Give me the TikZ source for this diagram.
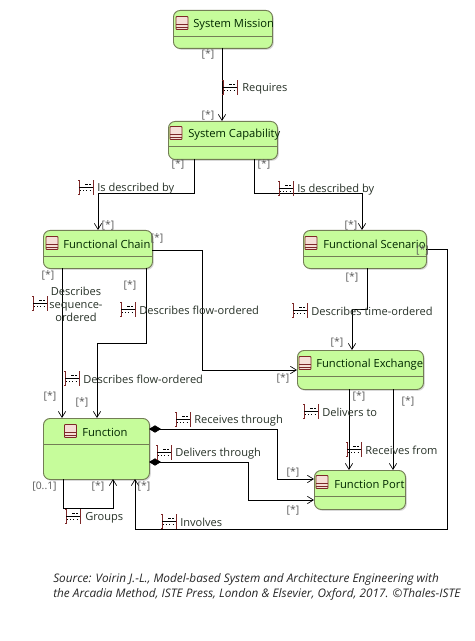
\documentclass[tikz,border=0pt]{standalone}
\usepackage{fontspec}
\setmainfont{Open Sans}
\usetikzlibrary{arrows.meta,positioning,shadows}
\definecolor{boxfill}{RGB}{198,252,155}
\definecolor{boxline}{RGB}{115,125,85}
\definecolor{iconred}{RGB}{125,40,40}
\definecolor{iconfill}{RGB}{245,222,215}
\definecolor{txt}{RGB}{40,50,40}
\tikzset{x=0.75pt,y=-0.75pt,
 classbox/.style={draw=boxline,line width=0.7pt,fill=boxfill,rounded corners=5pt,inner sep=0pt,
   drop shadow={shadow xshift=1pt,shadow yshift=-1pt,fill=black!30}},
 link/.style={draw=black,line width=0.65pt},
 open/.style={link,-{Straight Barb[length=4.5pt,width=5.5pt,line width=.5pt]}},
 comp/.style={link,{Diamond[length=9pt,width=5.5pt,fill=black]}-{Straight Barb[length=4.5pt,width=5.5pt,line width=.5pt]}},
 label/.style={font=\fontsize{8.3pt}{9.75pt}\selectfont,text=txt,inner sep=0pt,anchor=west,yshift=-1pt},
 card/.style={font=\fontsize{7.8pt}{9pt}\selectfont,text=black!65,inner sep=0pt,yshift=-.5pt},
 title/.style={font=\fontsize{8.4pt}{10pt}\selectfont,text=black!85!green,inner sep=0pt,anchor=west,yshift=-1pt},
}
% class icon at its centre
\newcommand{\classicon}[1]{%
 \begin{scope}[shift={(#1)}]
  \fill[iconfill,rounded corners=.6pt] (-6,-6.5) rectangle (6,6.5);
  \draw[iconred,line width=.65pt,rounded corners=.6pt] (-6,-6.5) rectangle (6,6.5);
  \draw[iconred,line width=.65pt] (-6,1) -- (6,1) (-6,4) -- (6,4);
 \end{scope}}
% relation icon whose left edge is at the coordinate
\newcommand{\relicon}[1]{%
 \begin{scope}[shift={(#1)}]
  \draw[iconred,line width=.6pt] (-1,-7) -- (0,-7) -- (0,7) -- (-1,7);
  \draw[iconred,line width=.6pt] (15,-7) -- (14,-7) -- (14,7) -- (15,7);
  \draw[black,line width=.5pt] (0,0) -- (14,0);
  \draw[black,line width=.5pt,dash pattern=on 2pt off 1pt] (6,-2.5) -- (12,-2.5);
  \draw[black,line width=.4pt,dotted] (1,3) -- (13,3);
 \end{scope}}
% class box: name, x0,y0,x1,y1, divider
\newcommand{\classbox}[6]{%
 \node[classbox,minimum width=#4*.75pt-#2*.75pt,minimum height=#5*.75pt-#3*.75pt,anchor=north west] (#1) at (#2,#3) {};
 \draw[boxline,line width=.7pt] (#2,#6) -- (#4,#6);
}
\begin{document}
\begin{tikzpicture}
\useasboundingbox (0,0) rectangle (474,641);
\fill[white] (0,0) rectangle (474,641);

\classbox{mission}{173}{10}{272}{48}{36}
\classbox{capab}{168}{121}{277}{159}{146}
\classbox{chain}{43}{230}{152}{268}{256}
\classbox{scen}{303}{230}{426}{268}{256}
\classbox{exch}{297}{350}{423}{389}{376}
\classbox{port}{314}{470}{405}{509}{496}
\classbox{func}{43}{418}{149}{479}{444}

\classicon{182,23}\node[title] (tmission) at (193,23) {System Mission};
\classicon{176,133}\node[title] (tcapab) at (188,133) {System Capability};
\classicon{52,243}\node[title] (tchain) at (63,243) {Functional Chain};
\classicon{311,243}\node[title] (tscen) at (323,243) {Functional Scenario};
\classicon{305,363}\node[title] (texch) at (316,363) {Functional Exchange};
\classicon{322,482}\node[title] (tport) at (334,483) {Function Port};
\classicon{70.5,431}\node[title] (tfunc) at (82,431) {Function};

\coordinate (a1) at (222,48);
\coordinate (a2) at (222,121);
\draw[open] (a1) -- (a2);
\coordinate (b1) at (194,159); \coordinate (b2) at (98,230);
\draw[open] (b1) |- (98,193) -- (b2);
\coordinate (c1) at (254,159); \coordinate (c2) at (362,230);
\draw[open] (c1) |- (362,193) -- (c2);
\coordinate (d1) at (62,268); \coordinate (d2) at (62,418);
\draw[open] (d1) -- (d2);
\coordinate (e1) at (146,268); \coordinate (e2) at (97,418);
\draw[open] (e1) -- (146,343) -- (97,343) -- (e2);
\coordinate (f1) at (152,250); \coordinate (f2) at (297,370);
\draw[open] (f1) -- (202,250) -- (202,370) -- (f2);
\coordinate (g1) at (367,268); \coordinate (g2) at (352,350);
\draw[open] (g1) -- (367,309) -- (352,309) -- (g2);
\coordinate (h1) at (349,389); \coordinate (h2) at (349,470);
\draw[open] (h1) -- (h2);
\coordinate (i1) at (393,389); \coordinate (i2) at (393,470);
\draw[open] (i1) -- (i2);
\coordinate (j1) at (149,429); \coordinate (j2) at (314,479);
\draw[comp] (j1) -- (277,429) -- (277,479) -- (j2);
\coordinate (k1) at (149,462); \coordinate (k2) at (314,500);
\draw[comp] (k1) -- (248,462) -- (248,500) -- (k2);
\coordinate (l1) at (426,249); \coordinate (l2) at (135,479);
\draw[open] (l1) -- (447,249) -- (447,529) -- (135,529) -- (l2);
\coordinate (m1) at (63,479); \coordinate (m2) at (113,479);
\draw[open] (m1) -- (63,508) -- (113,508) -- (m2);

\relicon{223,87}\node[label] (lreq) at (242,87) {Requires};
\relicon{79,187}\node[label] (l1a) at (97,187) {Is described by};
\relicon{279,188}\node[label] (l1b) at (297,188) {Is described by};
\relicon{33,303}\node[label,align=center,anchor=center] (l2a) at (76,303) {Describes\\sequence-\\ordered};
\relicon{121,309}\node[label] (l3a) at (139,309) {Describes flow-ordered};
\relicon{65,378}\node[label] (l3b) at (83,378) {Describes flow-ordered};
\relicon{293,310}\node[label] (l4) at (311,310) {Describes time-ordered};
\relicon{304,411}\node[label] (l5) at (322,411) {Delivers to};
\relicon{347,449}\node[label] (l6) at (365,449) {Receives from};
\relicon{176,419}\node[label] (l7) at (194,419) {Receives through};
\relicon{157,452}\node[label] (l8) at (175,452) {Delivers through};
\relicon{66,516}\node[label] (l9) at (85,516) {Groups};
\relicon{162,521}\node[label] (l10) at (180,521) {Involves};

\foreach \n/\x/\y/\t in {
 c1/208/54/{[*]}, c2/208/115/{[*]}, c3/178/164/{[*]}, c4/264/164/{[*]},
 c5/108/225/{[*]}, c6/157/238/{[*]}, c7/351/225/{[*]}, c8/422.5/250/{[*]},
 c9/48/275/{[*]}, c10/130/285/{[*]}, c11/352/277/{[*]}, c12/337/342/{[*]},
 c13/50/396/{[*]}, c14/82/402/{[*]}, c15/283/378/{[*]}, c16/359/396/{[*]},
 c17/408/401/{[*]}, c18/293/472/{[*]}, c19/293/510/{[*]},
 c20/44.5/486/{[0..1]}, c21/98/486/{[*]}, c22/144/486/{[*]}}
 \node[card] (\n) at (\x,\y) {\t};

\node[font=\fontsize{8.85pt}{11.25pt}\selectfont\itshape,text=black!85,inner sep=0pt,anchor=north west,align=left] (src) at (53,573)
 {Source: Voirin J.-L., Model-based System and Architecture Engineering with\\the Arcadia Method, ISTE Press, London \& Elsevier, Oxford, 2017. ©Thales-ISTE};
\end{tikzpicture}
\end{document}
